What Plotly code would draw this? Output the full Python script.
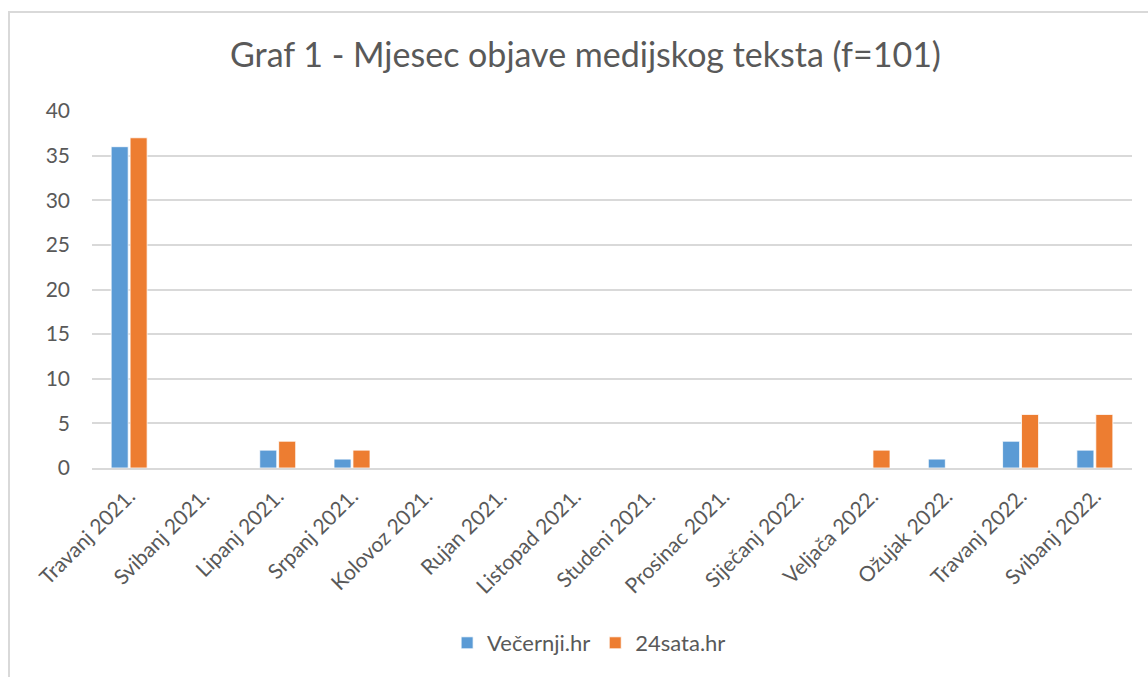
import plotly.graph_objects as go

categories = ["Travanj 2021.", "Svibanj 2021.", "Lipanj 2021.", "Srpanj 2021.", "Kolovoz 2021.",
              "Rujan 2021.", "Listopad 2021.", "Studeni 2021.", "Prosinac 2021.", "Siječanj 2022.",
              "Veljača 2022.", "Ožujak 2022.", "Travanj 2022.", "Svibanj 2022."]
vecernji = [36, 0, 2, 1, 0, 0, 0, 0, 0, 0, 0, 1, 3, 2]
sata24 = [37, 0, 3, 2, 0, 0, 0, 0, 0, 0, 2, 0, 6, 6]
y_ticks = [0, 5, 10, 15, 20, 25, 30, 35, 40]

FONT = "Lato"
GRAY = "#595959"

fig = go.Figure()
fig.add_trace(go.Bar(x=categories, y=vecernji, name="Večernji.hr",
                     marker=dict(color="#5B9BD5", line=dict(color="white", width=0.8))))
fig.add_trace(go.Bar(x=categories, y=sata24, name="24sata.hr",
                     marker=dict(color="#ED7D31", line=dict(color="white", width=0.8))))

L, R, T, B = 92, 16, 111, 209
W, H = 1148, 677
pw, ph = W - L - R, H - T - B

fig.update_layout(
    width=W, height=H,
    margin=dict(l=L, r=R, t=T, b=B, autoexpand=False),
    paper_bgcolor="white", plot_bgcolor="white",
    barmode="group", bargap=0.49, bargroupgap=0.1,
    font=dict(family=FONT, color=GRAY),
    title=dict(text="Graf 1 - Mjesec objave medijskog teksta (f=101)",
               font=dict(family=FONT, size=34, color=GRAY),
               x=0.51, xanchor="center", xref="container",
               y=1 - 55 / H, yanchor="middle", yref="container"),
    legend=dict(orientation="h", x=0.478, xanchor="center", y=-(643 - 468) / ph, yanchor="middle",
                font=dict(family=FONT, size=22, color=GRAY), itemwidth=30,
                traceorder="normal"),
    xaxis=dict(type="category", tickangle=-45, tickfont=dict(family=FONT, size=21, color=GRAY),
               showgrid=False, showline=True, linecolor="#D9D9D9", linewidth=1.5,
               ticks="", range=[-0.5, 13.5], ticklabelstandoff=6),
    yaxis=dict(range=[0, 40], tickvals=y_ticks, tickfont=dict(family=FONT, size=21, color=GRAY),
               showgrid=True, gridcolor="#D9D9D9", gridwidth=1.5, zeroline=False,
               showline=False, ticks="", ticklabelstandoff=21),
    shapes=[dict(type="rect", xref="paper", yref="paper",
                 x0=(9 - L) / pw, x1=(1160 - L) / pw,
                 y0=-(690 - (H - B)) / ph, y1=1 + (T - 12) / ph,
                 line=dict(color="#D9D9D9", width=2), fillcolor="rgba(0,0,0,0)", layer="below")],
)

fig.write_html("out.html", config={"displayModeBar": False},
               post_script="document.body.style.margin='0px';document.body.style.overflow='hidden';")
